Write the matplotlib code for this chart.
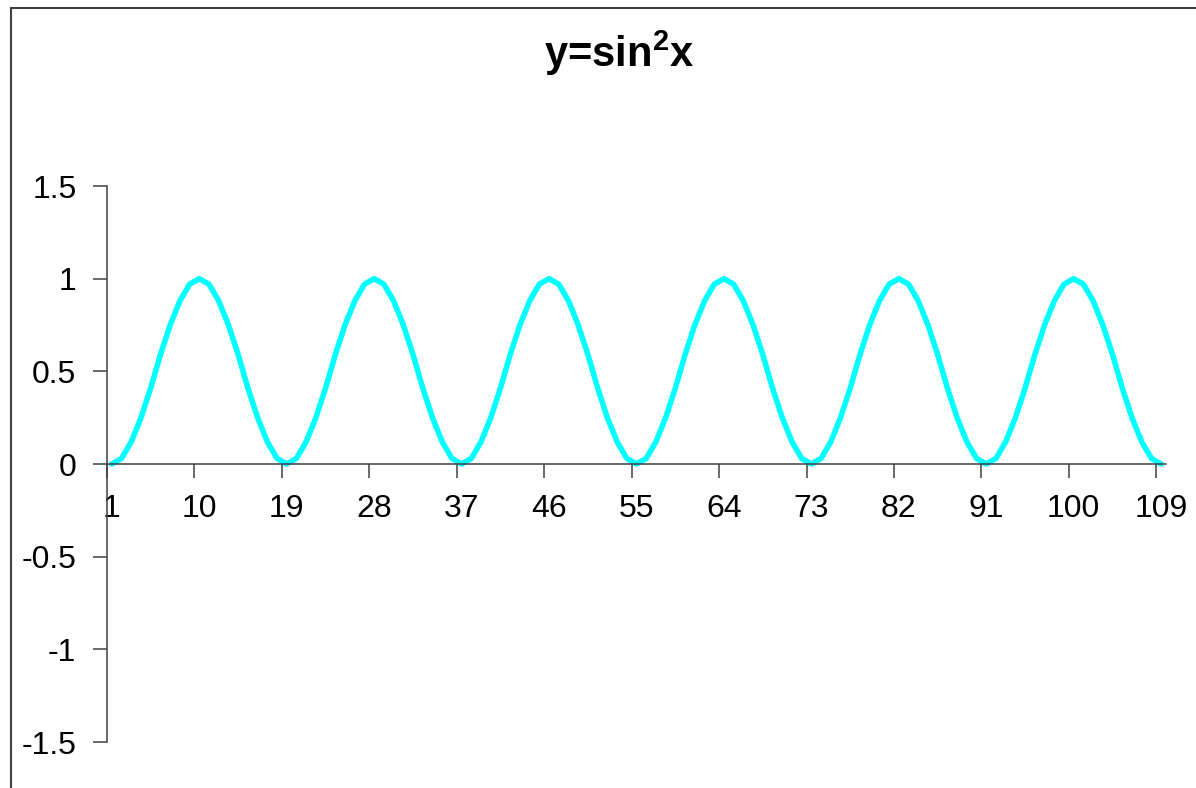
import matplotlib
matplotlib.use("Agg")
import matplotlib.pyplot as plt
from matplotlib.patches import Rectangle

plt.rcParams['font.family'] = ['Liberation Sans', 'DejaVu Sans']
plt.rcParams['mathtext.fontset'] = 'custom'
plt.rcParams['mathtext.rm'] = 'Liberation Sans:bold'
plt.rcParams['mathtext.default'] = 'rm'

# worksheet column: y = sin^2 x, x stepping 10 degrees from 0 to 1080
categories = list(range(1, 110))
y_values = [
    0, 0.03, 0.12, 0.25, 0.41, 0.59, 0.75, 0.88, 0.97, 1, 0.97, 0.88, 0.75, 0.59, 0.41, 0.25, 0.12, 0.03,
    0, 0.03, 0.12, 0.25, 0.41, 0.59, 0.75, 0.88, 0.97, 1, 0.97, 0.88, 0.75, 0.59, 0.41, 0.25, 0.12, 0.03,
    0, 0.03, 0.12, 0.25, 0.41, 0.59, 0.75, 0.88, 0.97, 1, 0.97, 0.88, 0.75, 0.59, 0.41, 0.25, 0.12, 0.03,
    0, 0.03, 0.12, 0.25, 0.41, 0.59, 0.75, 0.88, 0.97, 1, 0.97, 0.88, 0.75, 0.59, 0.41, 0.25, 0.12, 0.03,
    0, 0.03, 0.12, 0.25, 0.41, 0.59, 0.75, 0.88, 0.97, 1, 0.97, 0.88, 0.75, 0.59, 0.41, 0.25, 0.12, 0.03,
    0, 0.03, 0.12, 0.25, 0.41, 0.59, 0.75, 0.88, 0.97, 1, 0.97, 0.88, 0.75, 0.59, 0.41, 0.25, 0.12, 0.03,
    0,
]
x_labels = [1, 10, 19, 28, 37, 46, 55, 64, 73, 82, 91, 100, 109]
y_ticks = [-1.5, -1, -0.5, 0, 0.5, 1, 1.5]
y_tick_labels = ['-1.5', '-1', '-0.5', '0', '0.5', '1', '1.5']

W, H = 1196, 788
fig = plt.figure(figsize=(W / 100, H / 100), dpi=100)

# chart-area frame (runs off the right and bottom edges)
fig.patches.append(Rectangle((11 / W, -0.05), 1.2, 1 - 8 / H + 0.05,
                             transform=fig.transFigure, fill=False,
                             edgecolor='#404040', linewidth=1.5))

ax = fig.add_axes([107 / W, 1 - 742 / H, 1059 / W, 556 / H])
ax.plot(categories, y_values, color='#00FFFF', linewidth=4.0,
        solid_joinstyle='round', solid_capstyle='round', clip_on=False)

ax.set_xlim(0.5, len(categories) + 0.5)
ax.set_ylim(-1.5, 1.5)

for side in ('top', 'right'):
    ax.spines[side].set_visible(False)
ax.spines['bottom'].set_position(('data', 0))
for side in ('left', 'bottom'):
    ax.spines[side].set_color('#404040')
    ax.spines[side].set_linewidth(1.1)

# tick marks sit between categories, labels on the categories
ax.set_xticks([c - 0.5 for c in x_labels])
ax.set_xticklabels([])
ax.set_xticks(x_labels, minor=True)
ax.set_xticklabels([str(v) for v in x_labels], minor=True)
ax.tick_params(axis='x', which='major', direction='out', length=10,
               width=1.1, color='#404040')
ax.tick_params(axis='x', which='minor', length=0, pad=21.5, labelsize=23)

ax.set_yticks(y_ticks)
ax.set_yticklabels(y_tick_labels)
ax.tick_params(axis='y', direction='out', length=10, width=1.1,
               color='#404040', pad=12, labelsize=23)

fig.text(619 / W, 1 - 67 / H, r'y=sin$^2$x', ha='center', va='baseline',
         fontsize=30, fontweight='bold')

fig.savefig('out.png', dpi=100, facecolor='white')
